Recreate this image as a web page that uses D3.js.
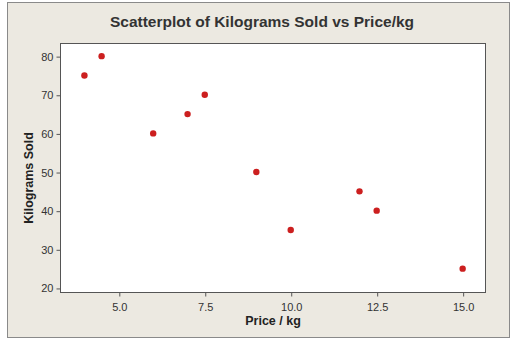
<!DOCTYPE html>
<html>
<head>
<meta charset="utf-8">
<script src="https://cdn.jsdelivr.net/npm/d3@7"></script>
<style>
  html, body { margin: 0; padding: 0; background: #fff; }
  svg { display: block; }
</style>
</head>
<body>
<svg id="chart" width="512" height="340"></svg>
<script>
// Price per kilogram and kilograms sold for each observation
const pricePerKg = [4, 4.5, 6, 7, 7.5, 9, 10, 12, 12.5, 15];
const kgSold     = [75, 80, 60, 65, 70, 50, 35, 45, 40, 25];
const xTicks = [5.0, 7.5, 10.0, 12.5, 15.0];
const yTicks = [20, 30, 40, 50, 60, 70, 80];

const svg = d3.select("#chart");
const W = 512, H = 340;
const plot = { left: 60, top: 43, right: 485, bottom: 292 };

// Outer panel
svg.append("rect")
  .attr("x", 7.5).attr("y", 2.5)
  .attr("width", W - 10).attr("height", H - 5)
  .attr("fill", "#ECE9E1").attr("stroke", "#8a8a8a").attr("stroke-width", 1);

const x = d3.scaleLinear().domain([3.29, 15.65]).range([plot.left, plot.right]);
const y = d3.scaleLinear().domain([18.95, 83.4]).range([plot.bottom, plot.top]);

// Plot area
svg.append("rect")
  .attr("x", plot.left + 0.5).attr("y", plot.top + 0.5)
  .attr("width", plot.right - plot.left).attr("height", plot.bottom - plot.top)
  .attr("fill", "#ffffff").attr("stroke", "#555").attr("stroke-width", 1);

const xAxis = svg.append("g")
  .attr("transform", `translate(0.5,${plot.bottom + 0.5})`)
  .call(d3.axisBottom(x).tickValues(xTicks).tickFormat(d3.format(".1f")).tickSize(4).tickSizeOuter(0));
const yAxis = svg.append("g")
  .attr("transform", `translate(${plot.left + 0.5},0.5)`)
  .call(d3.axisLeft(y).tickValues(yTicks).tickFormat(d3.format("d")).tickSize(4).tickSizeOuter(0));

[xAxis, yAxis].forEach(g => {
  g.select(".domain").remove();
  g.selectAll(".tick line").attr("stroke", "#555");
  g.selectAll(".tick text")
    .attr("fill", "#333")
    .style("font-family", "'Liberation Sans', Arial, sans-serif")
    .style("font-size", "11px");
});
xAxis.selectAll(".tick text").attr("dy", "1.05em");

// Points
svg.append("g").selectAll("circle")
  .data(pricePerKg.map((p, i) => ({ p, k: kgSold[i] })))
  .join("circle")
  .attr("cx", d => x(d.p))
  .attr("cy", d => y(d.k))
  .attr("r", 3.2)
  .attr("fill", "#CC1F1F");

// Title and axis titles
svg.append("text")
  .attr("x", 262).attr("y", 27)
  .attr("text-anchor", "middle")
  .attr("fill", "#333")
  .style("font-family", "'Liberation Sans', Arial, sans-serif")
  .style("font-weight", "bold").style("font-size", "15.5px")
  .text("Scatterplot of Kilograms Sold vs Price/kg");

svg.append("text")
  .attr("x", 273).attr("y", 325)
  .attr("text-anchor", "middle")
  .attr("fill", "#222")
  .style("font-family", "'Liberation Sans', Arial, sans-serif")
  .style("font-weight", "bold").style("font-size", "12.5px")
  .text("Price / kg");

svg.append("text")
  .attr("transform", "translate(33,178) rotate(-90)")
  .attr("text-anchor", "middle")
  .attr("fill", "#222")
  .style("font-family", "'Liberation Sans', Arial, sans-serif")
  .style("font-weight", "bold").style("font-size", "12.5px")
  .text("Kilograms Sold");
</script>
</body>
</html>
